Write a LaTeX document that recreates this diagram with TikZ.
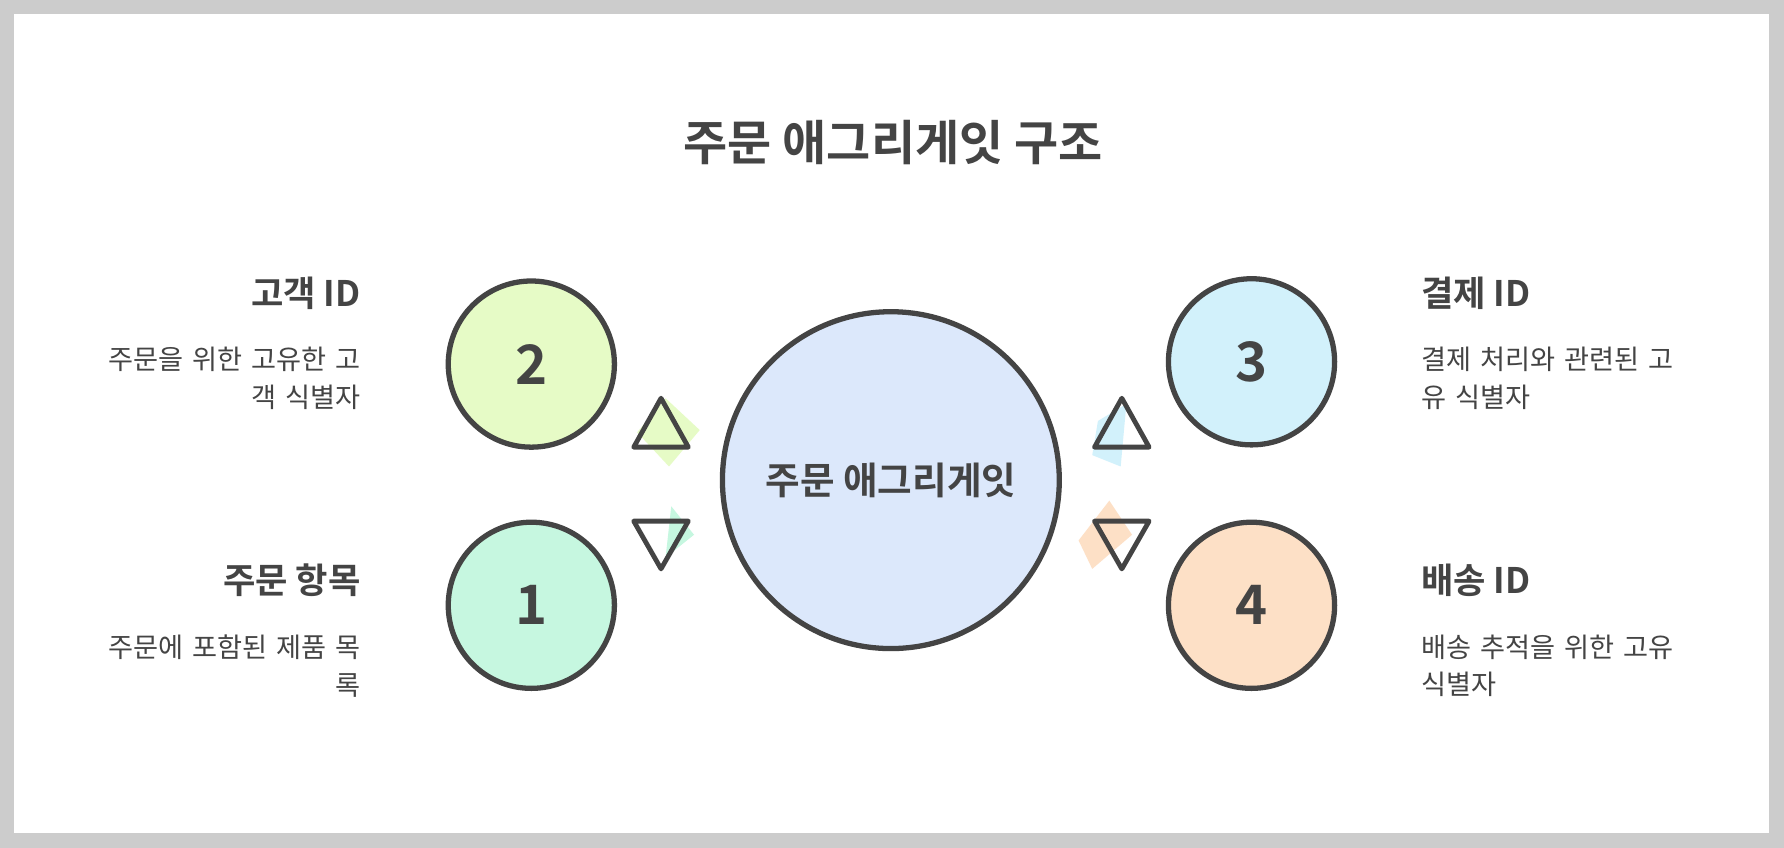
\documentclass[tikz,border=0pt]{standalone}
\usepackage{fontspec}
\setmainfont{Noto Sans CJK KR}
\newfontfamily\kb{Noto Sans CJK KR Bold}
\definecolor{ink}{HTML}{444444}
\definecolor{cC}{HTML}{DCE8FB}
\definecolor{c1}{HTML}{C6F7E0}
\definecolor{c2}{HTML}{E6FBC6}
\definecolor{c3}{HTML}{D2F1FB}
\definecolor{c4}{HTML}{FDE0C6}
\begin{document}
\begin{tikzpicture}[x=0.025cm,y=-0.025cm,
  circ/.style={circle,draw=ink,line width=3.3pt,inner sep=0pt,text=ink,font=\kb\fontsize{34}{38}\selectfont},
  tri/.style={draw=ink,line width=3pt,line join=round},
  head/.style={text=ink,font=\kb\fontsize{22}{26}\selectfont},
  desc/.style={text=ink,font=\fontsize{17}{23.5}\selectfont,text width=7.5cm}]
\fill[gray!40] (0,0) rectangle (1568,745);
\fill[white] (12,12) rectangle (1555,732);
\node[text=ink,font=\kb\fontsize{30}{34}\selectfont] (title) at (785,125) {주문 애그리게잇 구조};
\node[circ,fill=cC,minimum size=7.4cm,font=\kb\fontsize{23.5}{26}\selectfont] (ctr) at (783,422) {주문 애그리게잇};
\node[circ,fill=c2,minimum size=3.65cm] (n2) at (467,320) {2};
\node[circ,fill=c1,minimum size=3.65cm] (n1) at (467,532) {1};
\node[circ,fill=c3,minimum size=3.65cm] (n3) at (1100,318) {3};
\node[circ,fill=c4,minimum size=3.65cm] (n4) at (1100,532) {4};
\fill[c2] (585,350) -- (615,378) -- (588,410) -- (560,380) -- cycle;
\fill[c1] (590,445) -- (610,470) -- (585,490) -- cycle;
\fill[c3] (965,370) -- (990,355) -- (985,410) -- (960,400) -- cycle;
\fill[c4] (975,440) -- (995,470) -- (960,500) -- (948,475) -- cycle;
\draw[tri] (581,350) -- (605,393) -- (557,393) -- cycle;
\draw[tri] (557,458) -- (605,458) -- (581,500) -- cycle;
\draw[tri] (986,350) -- (1010,393) -- (962,393) -- cycle;
\draw[tri] (962,458) -- (1010,458) -- (986,500) -- cycle;
\node[head,anchor=east] (h2) at (322,258) {고객 ID};
\node[desc,anchor=north east,align=right] (d2) at (322,300) {주문을 위한 고유한 고\\객 식별자};
\node[head,anchor=east] (h1) at (322,510) {주문 항목};
\node[desc,anchor=north east,align=right] (d1) at (322,553) {주문에 포함된 제품 목\\록};
\node[head,anchor=west] (h3) at (1244,258) {결제 ID};
\node[desc,anchor=north west,align=left] (d3) at (1244,300) {결제 처리와 관련된 고\\유 식별자};
\node[head,anchor=west] (h4) at (1244,510) {배송 ID};
\node[desc,anchor=north west,align=left] (d4) at (1244,553) {배송 추적을 위한 고유\\식별자};
\end{tikzpicture}
\end{document}
